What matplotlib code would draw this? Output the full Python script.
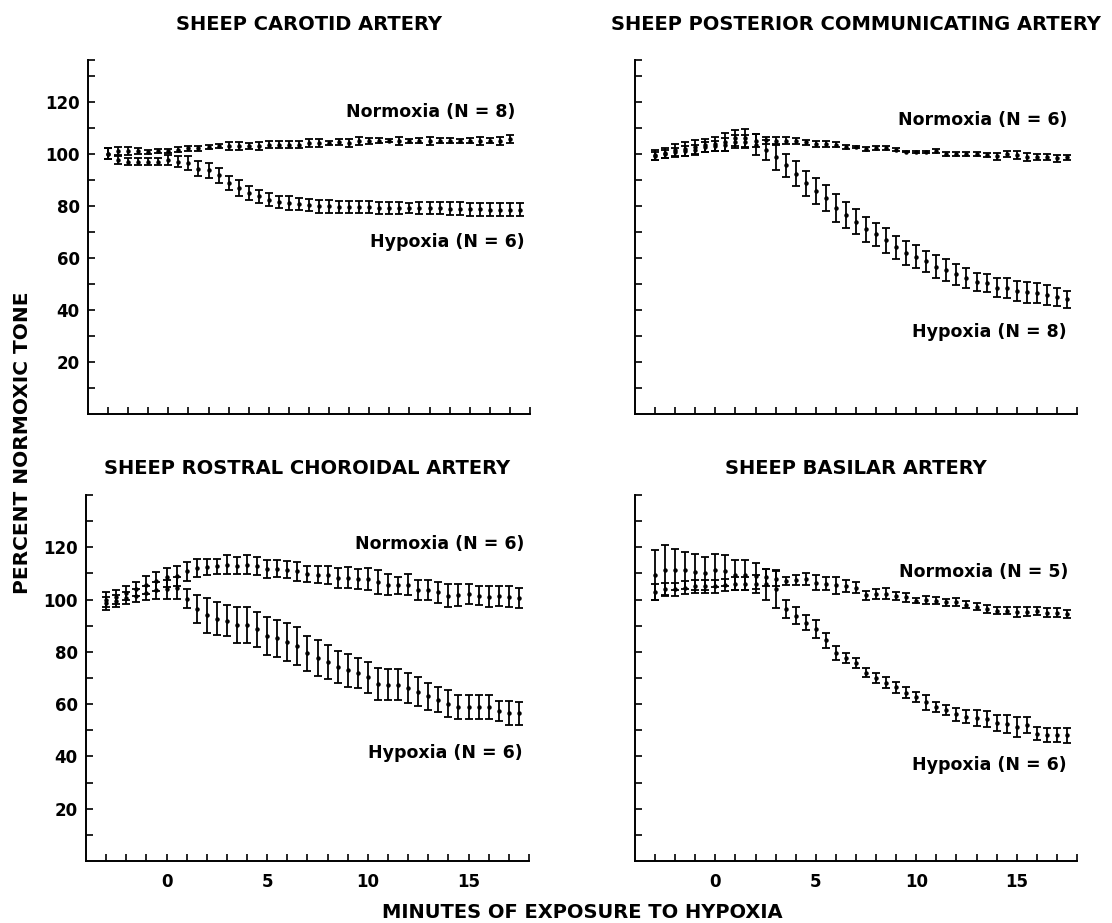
import numpy as np
import matplotlib
matplotlib.use("Agg")
import matplotlib.pyplot as plt

plt.rcParams['font.family'] = ['DejaVu Sans']
plt.rcParams['font.weight'] = 'bold'

# time grid (minutes), one point every half minute
minutes = np.arange(-3, 18, 0.5)          # -3 ... 17.5
minutes_short = np.arange(-3, 17.5, 0.5)  # -3 ... 17

# ---- Sheep carotid artery ----
car_norm = [100, 101, 101, 101, 100.5, 101, 101, 101.5, 102, 102,
            102.5, 103, 103, 103, 103, 103, 103.5, 103.5, 103.5, 103.5,
            104, 104, 104, 104.5, 104, 105, 105, 105, 105, 105,
            105, 105, 105, 105, 105, 105, 105, 105, 105, 105, 105.5]
car_norm_err = [2, 1.5, 1.5, 1, 0.8, 0.8, 0.8, 1, 1, 1,
                0.8, 0.8, 1.5, 1.5, 1.2, 1.5, 1.5, 1.5, 1.5, 1.5,
                1.5, 1.5, 0.8, 1, 1.5, 1.5, 1.2, 1, 0.6, 1.5,
                0.8, 1, 1.5, 1, 1, 0.8, 1, 1.5, 1, 1.5, 1.5]
car_hyp = [100, 97.5, 97, 97, 97, 97, 97.5, 97, 96.5, 94.2,
           93.6, 91.7, 88.7, 86.9, 84.9, 83.6, 82.4, 81.5, 81, 80.6,
           80.2, 79.8, 79.8, 79.5, 79.5, 79.5, 79.5, 79.3, 79.3, 79.3,
           79.2, 79, 79, 79, 78.8, 78.8, 78.6, 78.6, 78.5, 78.5, 78.4, 78.4]
car_hyp_err = [2, 1.5, 1.5, 1.5, 1.5, 1.5, 2, 2, 2.8, 2.9,
               2.9, 2.9, 2.8, 3, 2.8, 2.6, 2.4, 2.4, 2.6, 2.4,
               2.4, 2.4, 2.4, 2.3, 2.3, 2.3, 2.3, 2.3, 2.3, 2.3,
               2.0, 2.3, 2.3, 2.3, 2.5, 2.5, 2.5, 2.5, 2.5, 2.5, 2.5, 2.5]

# ---- Sheep posterior communicating artery ----
pca_norm = [99.4, 100.4, 101.3, 101.8, 102.4, 103.2, 103.7, 104.4, 105.9, 105.9,
            105, 105.1, 105, 105, 104.8, 104.4, 103.6, 103.6, 103.5, 102.6,
            102.5, 101.8, 102.3, 102.3, 101.5, 100.8, 100.7, 100.6, 100.9, 99.9,
            99.9, 99.9, 99.9, 99.6, 99, 100, 99.5, 98.8, 98.7, 98.7, 98.2, 98.6]
pca_norm_err = [1.9, 1.9, 2.3, 2.7, 2.7, 2.6, 2.7, 3.4, 3.1, 3.4,
                2.5, 1.4, 1.4, 1.4, 1.1, 0.9, 1.2, 1.2, 1.0, 0.7,
                0.3, 0.6, 0.8, 0.8, 0.6, 0.3, 0.5, 0.5, 0.8, 0.8,
                0.8, 0.8, 0.8, 0.8, 1.3, 1.1, 1.6, 1.5, 1.1, 1.1, 1.3, 0.9]
pca_hyp = [99, 100, 100.5, 101, 101.5, 102.5, 103, 103.5, 104.5, 104.5,
           103.5, 101.3, 98.6, 95.5, 92.3, 88.7, 85.7, 82.8, 79.2, 76.6,
           73.9, 71, 69, 66.7, 64, 61.8, 60.4, 58.7, 56.6, 55.3,
           53.7, 52.3, 50.7, 50.3, 48.5, 48.4, 47.2, 46.7, 46.5, 45.8, 44.8, 44.1]
pca_hyp_err = [1.5, 1.5, 1.8, 2, 2, 2, 2, 2.5, 2.5, 2.5,
               4, 3.9, 4.7, 4.5, 4.9, 4.8, 5, 5, 5.3, 5,
               4.8, 4.8, 4.5, 4.7, 4.4, 4.6, 4.5, 4.1, 4.4, 4.1,
               4, 3.9, 3.5, 3.5, 3.7, 3.9, 3.7, 4.1, 3.9, 3.9, 3.5, 3.2]

# ---- Sheep rostral choroidal artery ----
rca_norm = [100, 101, 102.5, 104, 105.5, 107, 108.5, 109, 110.8, 112.1,
            112.5, 112.7, 113.4, 113, 113.4, 112.8, 111.6, 111.8, 111.5, 110.8,
            109.8, 109.5, 109.3, 108.4, 108.3, 108, 107.9, 106.7, 105.7, 105.5,
            105.7, 103.7, 103.8, 102.8, 101.5, 101.7, 102, 101.5, 101.1, 101.3, 101.1, 100.6]
rca_norm_err = [2.9, 2.8, 2.6, 2.7, 3.4, 3.6, 3.7, 3.7, 3.6, 3.6,
                3.2, 3, 3.6, 3.1, 3.6, 3.5, 3.5, 3.2, 3.4, 3.6,
                3, 3.2, 3.4, 3.8, 4, 3.8, 4.3, 4.5, 4, 3.2,
                4, 3.9, 3.8, 4, 4.3, 4.2, 3.8, 3.6, 3.9, 3.9, 3.9, 4]
rca_hyp = [98.5, 99.5, 100.5, 101.5, 102.5, 103.5, 104, 104.5, 100.4, 96.3,
           94, 92.7, 91.9, 90.1, 90.1, 88.7, 86, 85.2, 83.8, 82.3,
           79.4, 77.7, 76.1, 74.3, 72.9, 71.8, 70.2, 67.8, 67.4, 67.4,
           66.2, 64.8, 63, 61.6, 60.2, 58.9, 58.9, 58.9, 58.9, 57.5, 56.7, 56.5]
rca_hyp_err = [2.6, 2.3, 2.3, 2.4, 2.8, 3.1, 3.6, 4.1, 3.8, 5.4,
               6.7, 6.4, 6, 6.9, 6.9, 6.7, 7.2, 7.1, 7.3, 7.3,
               6.6, 7, 6.6, 6.1, 6.2, 5.7, 6, 6.2, 5.9, 5.9,
               5.6, 5.5, 5.2, 4.8, 5.2, 4.6, 4.6, 4.6, 4.6, 3.8, 4.6, 4.5]

# ---- Sheep basilar artery ----
bas_norm = [109.4, 111.2, 111.5, 111.2, 110.4, 110, 111.2, 111, 109.4, 109.4,
            109, 108.5, 108, 107.1, 107.4, 107.8, 106.5, 106.1, 105.5, 105.2,
            104.6, 101.7, 102.3, 102.2, 101.4, 100.8, 99.6, 99.7, 99.6, 98.9,
            99, 98.1, 97.3, 96.4, 95.8, 95.8, 95.3, 95.3, 95.7, 95, 95, 94.4]
bas_norm_err = [9.4, 9.5, 8, 7, 6.9, 6.4, 6.4, 5.9, 5.8, 5.8,
                5, 3.3, 3, 1.6, 1.9, 2.2, 2.9, 2.5, 3.2, 2.2,
                2.2, 1.7, 1.9, 2.1, 1.6, 1.6, 1.1, 1.5, 1.4, 1.3,
                1.5, 1.5, 1.4, 1.5, 1.4, 1.4, 1.9, 1.7, 1.6, 1.6, 1.6, 1.6]
bas_hyp = [103, 104, 104, 104.5, 105, 105, 105, 105.5, 106, 106,
           106, 105.8, 103.9, 96.4, 93.9, 91.2, 88.7, 84.4, 79.5, 77.5,
           75.6, 72.1, 70, 68.2, 66.4, 64.4, 62.8, 60.7, 59, 57.8,
           56.1, 55.2, 54.7, 54.2, 52.9, 52.5, 51.3, 51.9, 48.6, 48.2, 48.2, 48]
bas_hyp_err = [3, 2.5, 2.5, 2.5, 2.5, 2.5, 2.5, 2.2, 2.5, 2.5,
               3.5, 6, 7.3, 3.6, 3.3, 2.9, 3.5, 3, 2.7, 1.9,
               1.9, 1.6, 2, 2.1, 2.2, 2.1, 1.9, 2.9, 1.9, 1.9,
               2.4, 2.5, 3, 3, 3, 3.4, 3.7, 3, 2.5, 2.5, 2.5, 2.9]

panels = [
    dict(title="SHEEP CAROTID ARTERY", rect=[0.0791, 0.5515, 0.3975, 0.3835], ymax=136,
         norm=(minutes_short, car_norm, car_norm_err), hyp=(minutes, car_hyp, car_hyp_err),
         norm_lab=("Normoxia (N = 8)", 17.25, 116), hyp_lab=("Hypoxia (N = 6)", 17.75, 66),
         xlabels=False, ylabels=True),
    dict(title="SHEEP POSTERIOR COMMUNICATING ARTERY", rect=[0.571, 0.5515, 0.3975, 0.3835], ymax=136,
         norm=(minutes, pca_norm, pca_norm_err), hyp=(minutes, pca_hyp, pca_hyp_err),
         norm_lab=("Normoxia (N = 6)", 17.5, 113), hyp_lab=("Hypoxia (N = 8)", 17.5, 31.6),
         xlabels=False, ylabels=False),
    dict(title="SHEEP ROSTRAL CHOROIDAL ARTERY", rect=[0.0773, 0.0672, 0.3984, 0.3965], ymax=140,
         norm=(minutes, rca_norm, rca_norm_err), hyp=(minutes, rca_hyp, rca_hyp_err),
         norm_lab=("Normoxia (N = 6)", 17.75, 121.4), hyp_lab=("Hypoxia (N = 6)", 17.7, 41.2),
         xlabels=True, ylabels=True),
    dict(title="SHEEP BASILAR ARTERY", rect=[0.571, 0.0672, 0.3975, 0.3965], ymax=140,
         norm=(minutes, bas_norm, bas_norm_err), hyp=(minutes, bas_hyp, bas_hyp_err),
         norm_lab=("Normoxia (N = 5)", 17.55, 110.6), hyp_lab=("Hypoxia (N = 6)", 17.5, 36.8),
         xlabels=True, ylabels=False),
]

fig = plt.figure(figsize=(11.12, 9.23), dpi=100)

for p in panels:
    ax = fig.add_axes(p["rect"])
    for x, m, e in (p["norm"], p["hyp"]):
        ax.errorbar(x, m, yerr=e, fmt='o', ms=2.2, color='black',
                    elinewidth=1.3, capsize=3.2, capthick=1.3)

    ax.set_xlim(-4, 18)
    ax.set_ylim(0, p["ymax"])
    for s in ("top", "right"):
        ax.spines[s].set_visible(False)
    for s in ("left", "bottom"):
        ax.spines[s].set_linewidth(1.4)

    ax.set_xticks([0, 5, 10, 15])
    ax.set_xticks(np.arange(-3, 19, 1), minor=True)
    ax.set_yticks(np.arange(20, 121, 20))
    ax.set_yticks(list(np.arange(10, 131, 20)) + [p["ymax"]], minor=True)
    ax.tick_params(axis='both', which='both', direction='in', width=1.2, length=5,
                   labelsize=12, colors='black')
    ax.tick_params(axis='x', which='both', pad=9)
    ax.tick_params(axis='y', which='both', pad=6)
    if not p["xlabels"]:
        ax.set_xticklabels([])
    if not p["ylabels"]:
        ax.set_yticklabels([])
    for lab in ax.get_xticklabels() + ax.get_yticklabels():
        lab.set_fontweight('bold')

    ax.text(0.5, 1.0 + (35 if p["ymax"] == 136 else 27) / (p["rect"][3] * 923),
            p["title"], transform=ax.transAxes, ha='center', va='center',
            fontsize=14, fontweight='bold')
    for txt, tx, ty in (p["norm_lab"], p["hyp_lab"]):
        ax.text(tx, ty, txt, ha='right', va='center', fontsize=12.5, fontweight='bold')

fig.text(23 / 1112, 1 - 443 / 923, "PERCENT NORMOXIC TONE", rotation=90,
         ha='center', va='center', fontsize=14.5, fontweight='bold')
fig.text(582 / 1112, 1 - 913 / 923, "MINUTES OF EXPOSURE TO HYPOXIA",
         ha='center', va='center', fontsize=14, fontweight='bold')

fig.savefig("out.png", dpi=100, facecolor='white')
